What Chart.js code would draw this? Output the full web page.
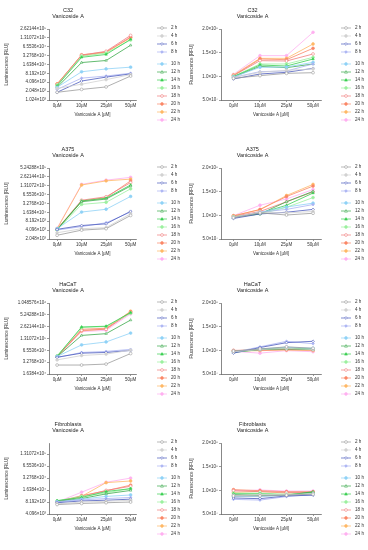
<!DOCTYPE html>
<html>
<head>
<meta charset="utf-8">
<script src="https://cdn.jsdelivr.net/npm/chart.js@4.4.1/dist/chart.umd.min.js"></script>
<style>
  body { margin: 0; background: #fff; }
  #fig { position: relative; width: 368px; height: 550px; overflow: hidden; }
  #fig canvas { position: absolute; }
</style>
</head>
<body>
<div id="fig"></div>
<script>
const doses = ['0µM', '10µM', '25µM', '50µM'];
const hours = ['2 h', '4 h', '6 h', '8 h', '10 h', '12 h', '14 h', '16 h', '18 h', '20 h', '22 h', '24 h'];
const hourColors = ['#9c9c9c', '#d2d2d2', '#4b5bbd', '#aab3f3', '#8fd2f6', '#3ba94b', '#39cf51',
    '#9cf09f', '#f07d7d', '#fa8767', '#ffb866', '#ffb0f0'];
const hourShapes = ['circle', 'circle', 'rectRot', 'rectRot', 'circle', 'triangle', 'triangle',
    'circle', 'circle', 'circle', 'circle', 'circle'];
const hourOpen = [true, false, true, false, false, true, false, false, true, false, false, false];

// luminescence (RLU), one row per time point, columns follow doses
const c32Lum = [
    [1870, 2340, 2840, 6650],
    [2540, 3520, 5040, 7430],
    [1870, 4510, 6130, 7860],
    [2340, 5640, 6650, 8300],
    [2760, 9280, 11590, 13300],
    [2760, 19070, 22390, 73700],
    [3080, 28700, 35900, 117000],
    [3260, 31200, 40000, 110900],
    [3440, 33900, 46000, 159000],
    [3520, 34900, 43500, 138000],
    [3610, 33000, 42300, 131000],
    [3330, 32100, 43500, 142000]
];
const a375Lum = [
    [2740, 4096, 4580, 12850],
    [3330, 4580, 4970, 14700],
    [4360, 5870, 6700, 17800],
    [4120, 5400, 7280, 16800],
    [4580, 16800, 20900, 57000],
    [4360, 37600, 46300, 128000],
    [4240, 40000, 49600, 139000],
    [4120, 30600, 35900, 103000],
    [4450, 42300, 55500, 168000],
    [4360, 40000, 52000, 192000],
    [4580, 139000, 192000, 220000],
    [4700, 146000, 203000, 253000]
];
const hacatLum = [
    [27700, 27700, 29300, 54300],
    [37400, 48300, 52500, 66500],
    [43800, 55500, 57800, 65000],
    [42900, 57800, 61600, 69300],
    [45700, 90100, 107000, 180000],
    [44800, 157000, 174000, 386000],
    [46300, 258000, 269000, 599000],
    [47300, 248000, 264000, 577000],
    [45700, 211000, 225000, 599000],
    [44800, 225000, 239000, 623000],
    [45700, 204000, 230000, 649000],
    [45700, 196000, 211000, 553000]
];
const fibroLum = [
    [7080, 7540, 7860, 8190],
    [7380, 8190, 8540, 9090],
    [7860, 8720, 9090, 9670],
    [8190, 9280, 10000, 10650],
    [8370, 9670, 11340, 12330],
    [8540, 10000, 13120, 16040],
    [8900, 10650, 15070, 17800],
    [8720, 11340, 13870, 17800],
    [8190, 11340, 16040, 20400],
    [8370, 11820, 15710, 21800],
    [8190, 11340, 25200, 27700],
    [8190, 14460, 25700, 32768]
];

// fluorescence (RFU)
const c32Fluo = [
    [0.958e8, 1.014e8, 1.063e8, 1.077e8],
    [0.972e8, 1.085e8, 1.127e8, 1.155e8],
    [0.944e8, 1.049e8, 1.085e8, 1.169e8],
    [0.979e8, 1.099e8, 1.113e8, 1.261e8],
    [0.986e8, 1.190e8, 1.197e8, 1.296e8],
    [0.986e8, 1.211e8, 1.183e8, 1.261e8],
    [0.993e8, 1.239e8, 1.218e8, 1.366e8],
    [1.000e8, 1.261e8, 1.261e8, 1.401e8],
    [1.014e8, 1.331e8, 1.324e8, 1.472e8],
    [1.014e8, 1.366e8, 1.352e8, 1.592e8],
    [1.028e8, 1.380e8, 1.380e8, 1.683e8],
    [1.042e8, 1.437e8, 1.437e8, 1.930e8]
];
const a375Fluo = [
    [0.949e8, 1.051e8, 1.007e8, 1.044e8],
    [0.963e8, 1.066e8, 1.051e8, 1.081e8],
    [0.934e8, 1.029e8, 1.066e8, 1.125e8],
    [0.941e8, 1.066e8, 1.125e8, 1.228e8],
    [0.949e8, 1.066e8, 1.176e8, 1.257e8],
    [0.956e8, 1.029e8, 1.287e8, 1.507e8],
    [0.963e8, 1.044e8, 1.213e8, 1.471e8],
    [0.971e8, 1.029e8, 1.169e8, 1.375e8],
    [0.978e8, 1.081e8, 1.287e8, 1.493e8],
    [0.985e8, 1.125e8, 1.397e8, 1.618e8],
    [0.993e8, 1.118e8, 1.419e8, 1.654e8],
    [0.993e8, 1.213e8, 1.346e8, 1.544e8]
];
const hacatFluo = [
    [0.985e8, 1.029e8, 1.074e8, 1.044e8],
    [0.971e8, 1.015e8, 1.044e8, 1.015e8],
    [0.941e8, 1.059e8, 1.162e8, 1.191e8],
    [0.956e8, 1.074e8, 1.191e8, 1.140e8],
    [0.971e8, 1.029e8, 1.066e8, 1.044e8],
    [0.956e8, 1.015e8, 1.029e8, 1.015e8],
    [0.963e8, 1.022e8, 1.044e8, 1.029e8],
    [0.978e8, 1.029e8, 1.051e8, 1.022e8],
    [1.000e8, 1.000e8, 1.015e8, 1.007e8],
    [0.993e8, 1.015e8, 1.029e8, 1.015e8],
    [0.985e8, 0.993e8, 1.007e8, 0.993e8],
    [0.978e8, 0.941e8, 0.993e8, 0.971e8]
];
const fibroFluo = [
    [0.882e8, 0.882e8, 0.897e8, 0.919e8],
    [0.897e8, 0.912e8, 0.912e8, 0.926e8],
    [0.838e8, 0.824e8, 0.882e8, 0.897e8],
    [0.809e8, 0.794e8, 0.868e8, 0.912e8],
    [0.868e8, 0.868e8, 0.897e8, 0.926e8],
    [0.912e8, 0.897e8, 0.897e8, 0.971e8],
    [0.926e8, 0.926e8, 0.904e8, 0.956e8],
    [0.941e8, 0.941e8, 0.919e8, 0.941e8],
    [0.993e8, 0.971e8, 0.956e8, 0.956e8],
    [1.015e8, 0.993e8, 0.971e8, 0.971e8],
    [0.956e8, 0.978e8, 0.941e8, 0.956e8],
    [0.985e8, 1.007e8, 0.985e8, 0.985e8]
];

// tick values and labels
const c32LumTicks = [1024, 2048, 4096, 8192, 16384, 32768, 65536, 131072, 262144];
const c32LumLabels = ['1.024×10³', '2.048×10³', '4.096×10³', '8.192×10³', '1.6384×10⁴',
    '3.2768×10⁴', '6.5536×10⁴', '1.31072×10⁵', '2.62144×10⁵'];
const a375LumTicks = [2048, 4096, 8192, 16384, 32768, 65536, 131072, 262144, 524288];
const a375LumLabels = ['2.048×10³', '4.096×10³', '8.192×10³', '1.6384×10⁴', '3.2768×10⁴',
    '6.5536×10⁴', '1.31072×10⁵', '2.62144×10⁵', '5.24288×10⁵'];
const hacatLumTicks = [16384, 32768, 65536, 131072, 262144, 524288, 1048576];
const hacatLumLabels = ['1.6384×10⁴', '3.2768×10⁴', '6.5536×10⁴', '1.31072×10⁵',
    '2.62144×10⁵', '5.24288×10⁵', '1.048576×10⁶'];
const fibroLumTicks = [4096, 8192, 16384, 32768, 65536, 131072];
const fibroLumLabels = ['4.096×10³', '8.192×10³', '1.6384×10⁴', '3.2768×10⁴', '6.5536×10⁴', '1.31072×10⁵'];
const fluoTicks = [5e7, 1e8, 1.5e8, 2e8];
const fluoLabels = ['5.0×10⁷', '1.0×10⁸', '1.5×10⁸', '2.0×10⁸'];

Chart.defaults.font.family = '"Liberation Sans", Arial, sans-serif';
Chart.defaults.color = '#333';

const W = 184, H = 137;
const rowTops = [0, 139, 274, 414];

const panels = [
    { title: 'C32', col: 0, row: 0, values: c32Lum, ticks: c32LumTicks, labels: c32LumLabels, min: 1024, max: 262144 },
    { title: 'C32', col: 1, row: 0, values: c32Fluo, ticks: fluoTicks, labels: fluoLabels, min: 5e7, max: 2e8 },
    { title: 'A375', col: 0, row: 1, values: a375Lum, ticks: a375LumTicks, labels: a375LumLabels, min: 2048, max: 524288 },
    { title: 'A375', col: 1, row: 1, values: a375Fluo, ticks: fluoTicks, labels: fluoLabels, min: 5e7, max: 2e8 },
    { title: 'HaCaT', col: 0, row: 2, values: hacatLum, ticks: hacatLumTicks, labels: hacatLumLabels, min: 16384, max: 1048576 },
    { title: 'HaCaT', col: 1, row: 2, values: hacatFluo, ticks: fluoTicks, labels: fluoLabels, min: 5e7, max: 2e8 },
    { title: 'Fibroblasts', col: 0, row: 3, values: fibroLum, ticks: fibroLumTicks, labels: fibroLumLabels, min: 4096, max: 250000 },
    { title: 'Fibroblasts', col: 1, row: 3, values: fibroFluo, ticks: fluoTicks, labels: fluoLabels, min: 5e7, max: 2e8 }
];

function drawMarker(ctx, style, x, y, r, color, open) {
    ctx.beginPath();
    if (style === 'rectRot') {
        ctx.moveTo(x, y - r); ctx.lineTo(x + r, y); ctx.lineTo(x, y + r); ctx.lineTo(x - r, y);
        ctx.closePath();
    } else if (style === 'triangle') {
        ctx.moveTo(x, y - r); ctx.lineTo(x + r, y + r * 0.8); ctx.lineTo(x - r, y + r * 0.8);
        ctx.closePath();
    } else {
        ctx.arc(x, y, r, 0, Math.PI * 2);
    }
    ctx.fillStyle = open ? '#fff' : color;
    ctx.fill();
    ctx.lineWidth = 0.6;
    ctx.strokeStyle = color;
    ctx.stroke();
}

// time point key to the right of each plot
const hoursKey = {
    id: 'hoursKey',
    afterDraw(chart) {
        const ctx = chart.ctx;
        ctx.save();
        ctx.font = '4.6px "Liberation Sans", Arial, sans-serif';
        ctx.textBaseline = 'middle';
        chart.data.datasets.forEach((ds, i) => {
            const y = 28 + i * 8 + (i >= 4 ? 4 : 0);
            ctx.beginPath();
            ctx.moveTo(157, y); ctx.lineTo(167, y);
            ctx.strokeStyle = ds.borderColor; ctx.lineWidth = 0.7;
            ctx.stroke();
            drawMarker(ctx, hourShapes[i], 162, y, 1.4, ds.borderColor, hourOpen[i]);
            ctx.fillStyle = '#333';
            ctx.fillText(ds.label, 171, y);
        });
        ctx.restore();
    }
};

const fig = document.getElementById('fig');

panels.forEach(p => {
    const canvas = document.createElement('canvas');
    canvas.width = W;
    canvas.height = H;
    canvas.style.left = (p.col * W) + 'px';
    canvas.style.top = rowTops[p.row] + 'px';
    fig.appendChild(canvas);

    const lum = p.col === 0;
    const axisX = lum ? 49 : 37;

    new Chart(canvas, {
        type: 'line',
        data: {
            datasets: p.values.map((vals, i) => ({
                label: hours[i],
                data: vals.map((v, j) => ({ x: j, y: v })),
                borderColor: hourColors[i],
                backgroundColor: hourOpen[i] ? '#fff' : hourColors[i],
                pointBorderColor: hourColors[i],
                pointStyle: hourShapes[i],
                pointRadius: 1.4,
                pointBorderWidth: 0.6,
                borderWidth: 0.8,
                tension: 0
            }))
        },
        options: {
            responsive: false,
            animation: false,
            events: [],
            layout: { padding: { left: 0, right: lum ? 48 : 47, top: 0, bottom: 0 } },
            plugins: {
                legend: { display: false },
                tooltip: { enabled: false },
                title: {
                    display: true,
                    text: [p.title, 'Vanicoside A'],
                    color: '#222',
                    font: { size: 5.5, weight: 'normal', lineHeight: 1 },
                    padding: { top: 8, bottom: 10 }
                }
            },
            scales: {
                x: {
                    type: 'linear',
                    min: lum ? -0.33 : -0.47,
                    max: lum ? 3.22 : 3.3,
                    afterBuildTicks: s => { s.ticks = doses.map((d, i) => ({ value: i })); },
                    afterFit: s => { s.height = H - 100; },
                    ticks: {
                        callback: (v, i) => doses[i],
                        font: { size: 4.5 },
                        padding: 1,
                        maxRotation: 0,
                        autoSkip: false
                    },
                    grid: { drawOnChartArea: false, tickLength: 2, color: '#555', lineWidth: 0.6 },
                    border: { color: '#555', width: 0.7 },
                    title: {
                        display: true,
                        text: 'Vanicoside A [µM]',
                        font: { size: 4.5 },
                        padding: { top: 0, bottom: 19.5 }
                    }
                },
                y: {
                    type: lum ? 'logarithmic' : 'linear',
                    min: p.min,
                    max: p.max,
                    afterBuildTicks: s => { s.ticks = p.ticks.map(v => ({ value: v })); },
                    afterFit: s => { s.width = axisX; },
                    ticks: {
                        callback: (v, i) => p.labels[i],
                        font: { size: 4.5 },
                        padding: 1,
                        autoSkip: false
                    },
                    grid: { drawOnChartArea: false, tickLength: 2, color: '#555', lineWidth: 0.6 },
                    border: { color: '#555', width: 0.7 },
                    title: {
                        display: true,
                        text: lum ? 'Luminescence [RLU]' : 'Fluorescence [RFU]',
                        font: { size: 4.5 },
                        padding: { top: lum ? 4.3 : 5.3, bottom: 0 }
                    }
                }
            }
        },
        plugins: [hoursKey]
    });
});
</script>
</body>
</html>
